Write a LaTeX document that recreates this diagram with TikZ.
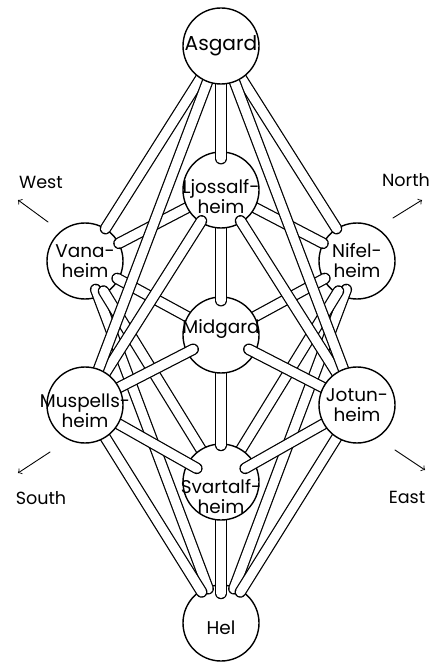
\documentclass[tikz,border=0pt]{standalone}
\usepackage{fontspec}
\setmainfont{Poppins}

\begin{document}
\begin{tikzpicture}[line cap=round,line join=round,
    world/.style={circle,minimum size=1.52cm,inner sep=0pt},
    disc/.style={draw,fill=white,line width=0.8pt},
    tube/.style={double,double distance=5.2pt,line width=0.7pt,shorten <=-6pt},
    into/.style={shorten >=-#1},
    wname/.style={align=center,inner sep=0pt,font=\fontsize{10.5}{11.4}\selectfont},
    compass/.style={inner sep=0pt,font=\fontsize{10}{12}\selectfont},
    pointer/.style={->,line width=0.5pt}]
  \useasboundingbox (0,0) rectangle (8.62,-13.26);
  % 九界位置
  \node[world] (asg)   at (4.42,-0.92) {};
  \node[world] (lj)    at (4.42,-3.80) {};
  \node[world] (mid)   at (4.42,-6.70) {};
  \node[world] (svart) at (4.42,-9.64) {};
  \node[world] (hel)   at (4.42,-12.46) {};
  \node[world] (van)   at (1.70,-5.22) {};
  \node[world] (nif)   at (7.14,-5.22) {};
  \node[world] (musp)  at (1.70,-8.10) {};
  \node[world] (jot)   at (7.14,-8.10) {};
  % 最底层的圆
  \filldraw[disc] (hel) circle[radius=0.76];
  \filldraw[disc] (van) circle[radius=0.76];
  \filldraw[disc] (nif) circle[radius=0.76];
  % 通往 Hel 的管道
  \draw[tube,shorten <=-4.5pt,into=1pt] (van) -- (hel);
  \draw[tube,shorten <=-4.5pt,into=1pt] (nif) -- (hel);
  \draw[tube,into=1pt] (musp) -- (hel);
  \draw[tube,into=1pt] (jot) -- (hel);
  \draw[tube,into=5pt] (svart) -- (hel);
  \draw[tube,into=1.7pt] (svart) -- (van);
  \draw[tube,into=1.7pt] (svart) -- (nif);
  \filldraw[disc] (svart) circle[radius=0.76];
  % Midgard 周围
  \draw[tube,into=1pt] (mid) -- (svart);
  \draw[tube,into=1pt] (mid) -- (van);
  \draw[tube,into=1pt] (mid) -- (nif);
  \draw[tube,into=6pt] (musp) -- (svart);
  \draw[tube,into=6pt] (jot) -- (svart);
  \filldraw[disc] (mid) circle[radius=0.76];
  % Ljossalfheim 以下
  \draw[tube,into=2.3pt] (lj) -- (mid);
  \draw[tube,into=0pt] (lj) -- (van);
  \draw[tube,into=0pt] (lj) -- (nif);
  \draw[tube,into=4pt] (musp) -- (mid);
  \draw[tube,into=4pt] (jot) -- (mid);
  \filldraw[disc] (lj) circle[radius=0.76];
  % Asgard 的长管道
  \draw[tube,into=4pt] (asg) -- (lj);
  \draw[tube,into=1pt] (musp) -- (lj);
  \draw[tube,into=1pt] (jot) -- (lj);
  \draw[tube,into=0pt] (asg) -- (van);
  \draw[tube,into=0pt] (asg) -- (nif);
  \draw[tube,into=6pt] (asg) -- (musp);
  \draw[tube,into=6pt] (asg) -- (jot);
  % 最上层的圆
  \filldraw[disc] (asg) circle[radius=0.76];
  \filldraw[disc] (musp) circle[radius=0.76];
  \filldraw[disc] (jot) circle[radius=0.76];
  % 名称
  \node[wname,font=\fontsize{11.5}{12}\selectfont] (asg-t) at (asg) {Asgard};
  \node[wname] (lj-t)    at ([yshift=-0.14cm]lj) {Ljossalf-\\heim};
  \node[wname] (van-t)   at (van) {Vana-\\heim};
  \node[wname] (nif-t)   at (nif) {Nifel-\\heim};
  \node[wname] (mid-t)   at ([yshift=0.12cm]mid) {Midgard};
  \node[wname] (musp-t)  at ([yshift=-0.12cm]musp) {Muspells-\\heim};
  \node[wname] (jot-t)   at (jot) {Jotun-\\heim};
  \node[wname] (svart-t) at ([yshift=-0.30cm]svart) {Svartalf-\\heim};
  \node[wname] (hel-t)   at ([yshift=-0.10cm]hel) {Hel};
  % 方位
  \coordinate (w-a) at (0.96,-4.44); \coordinate (w-b) at (0.36,-4.00);
  \coordinate (n-a) at (7.86,-4.36); \coordinate (n-b) at (8.44,-4.00);
  \coordinate (s-a) at (1.00,-9.04); \coordinate (s-b) at (0.36,-9.46);
  \coordinate (e-a) at (7.90,-9.00); \coordinate (e-b) at (8.50,-9.40);
  \draw[pointer] (w-a) -- (w-b);
  \draw[pointer] (n-a) -- (n-b);
  \draw[pointer] (s-a) -- (s-b);
  \draw[pointer] (e-a) -- (e-b);
  \node[compass] (west)  at (0.82,-3.64) {West};
  \node[compass] (north) at (8.12,-3.60) {North};
  \node[compass] (south) at (0.82,-9.96) {South};
  \node[compass] (east)  at (8.14,-9.94) {East};
\end{tikzpicture}
\end{document}
